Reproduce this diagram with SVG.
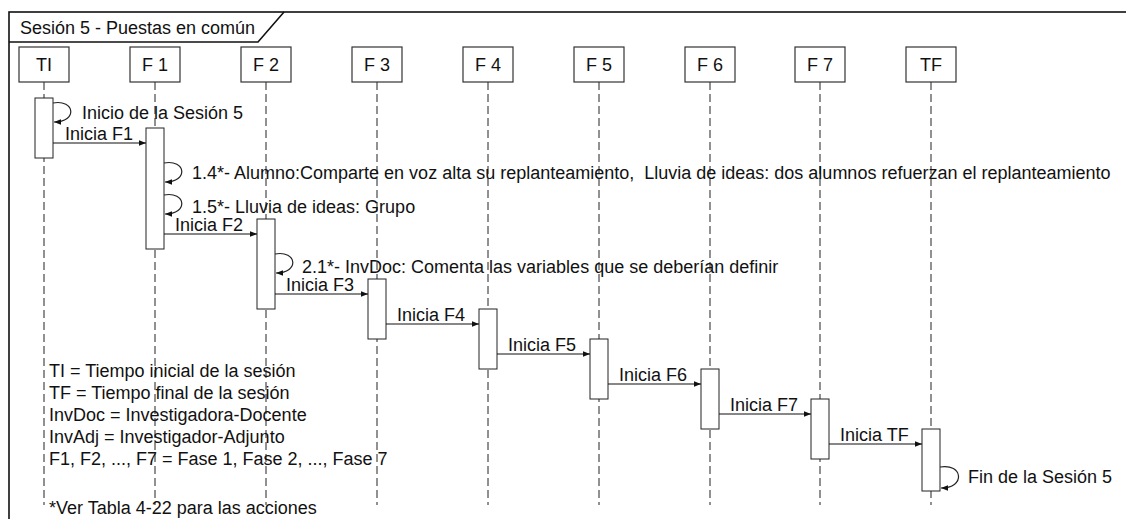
<svg xmlns="http://www.w3.org/2000/svg" width="1126" height="519" viewBox="0 0 1126 519">
<style>
text{font-family:"Liberation Sans",Arial,sans-serif;font-size:18px;fill:#111}
.box{fill:#fff;stroke:#333;stroke-width:1.2}
.life{stroke:#222;stroke-width:1;stroke-dasharray:8,4;fill:none}
.bar{fill:#fff;stroke:#222;stroke-width:1}
.msg{stroke:#111;stroke-width:1.2;fill:none;marker-end:url(#arr)}
.loop{stroke:#222;stroke-width:1.2;fill:none;marker-end:url(#arr)}
.frame{fill:none;stroke:#111;stroke-width:1.6}
.lbl{text-anchor:middle}
</style>
<defs>
<marker id="arr" viewBox="0 0 10 10" refX="10" refY="5" markerWidth="7" markerHeight="7" markerUnits="userSpaceOnUse" orient="auto">
<path d="M0,1 L10,5 L0,9 z" fill="#111"/>
</marker>
</defs>
<rect width="1126" height="519" fill="#fff"/>
<g id="frame">
<rect class="frame" x="9" y="12" width="1130" height="520"/>
<path class="frame" d="M9,42 H258 L284,12"/>
<text x="20" y="34">Sesión 5 - Puestas en común</text>
</g>
<g id="TI">
<line class="life" x1="44" y1="82" x2="44" y2="505"/>
<rect class="box" x="19" y="47" width="50" height="35"/>
<text class="lbl" x="44" y="71">TI</text>
<rect class="bar" x="35" y="98" width="18" height="60"/>
</g>
<g id="F1">
<line class="life" x1="155" y1="82" x2="155" y2="505"/>
<rect class="box" x="130" y="47" width="50" height="35"/>
<text class="lbl" x="155" y="71">F 1</text>
<rect class="bar" x="146" y="128" width="18" height="121"/>
</g>
<g id="F2">
<line class="life" x1="266" y1="82" x2="266" y2="505"/>
<rect class="box" x="241" y="47" width="50" height="35"/>
<text class="lbl" x="266" y="71">F 2</text>
<rect class="bar" x="257" y="219" width="18" height="90"/>
</g>
<g id="F3">
<line class="life" x1="377" y1="82" x2="377" y2="505"/>
<rect class="box" x="352" y="47" width="50" height="35"/>
<text class="lbl" x="377" y="71">F 3</text>
<rect class="bar" x="368" y="279" width="18" height="60"/>
</g>
<g id="F4">
<line class="life" x1="488" y1="82" x2="488" y2="505"/>
<rect class="box" x="463" y="47" width="50" height="35"/>
<text class="lbl" x="488" y="71">F 4</text>
<rect class="bar" x="479" y="309" width="18" height="60"/>
</g>
<g id="F5">
<line class="life" x1="599" y1="82" x2="599" y2="505"/>
<rect class="box" x="574" y="47" width="50" height="35"/>
<text class="lbl" x="599" y="71">F 5</text>
<rect class="bar" x="590" y="339" width="18" height="60"/>
</g>
<g id="F6">
<line class="life" x1="710" y1="82" x2="710" y2="505"/>
<rect class="box" x="685" y="47" width="50" height="35"/>
<text class="lbl" x="710" y="71">F 6</text>
<rect class="bar" x="701" y="369" width="18" height="60"/>
</g>
<g id="F7">
<line class="life" x1="820" y1="82" x2="820" y2="505"/>
<rect class="box" x="795" y="47" width="50" height="35"/>
<text class="lbl" x="820" y="71">F 7</text>
<rect class="bar" x="811" y="399" width="18" height="60"/>
</g>
<g id="TF">
<line class="life" x1="931" y1="82" x2="931" y2="505"/>
<rect class="box" x="906" y="47" width="50" height="35"/>
<text class="lbl" x="931" y="71">TF</text>
<rect class="bar" x="922" y="429" width="18" height="62"/>
</g>
<g id="connectors">
<path class="loop" d="M53,103 C75,99 78,122 54,122"/>
<path class="loop" d="M164,163 C186,159 189,182 165,182"/>
<path class="loop" d="M164,195 C186,191 189,214 165,214"/>
<path class="loop" d="M275,254 C297,250 300,273 276,273"/>
<path class="loop" d="M940,467 C963,463 966,488 941,488"/>
<line class="msg" x1="53" y1="143" x2="146" y2="143"/>
<line class="msg" x1="164" y1="234" x2="257" y2="234"/>
<line class="msg" x1="275" y1="294" x2="368" y2="294"/>
<line class="msg" x1="386" y1="324" x2="479" y2="324"/>
<line class="msg" x1="497" y1="354" x2="590" y2="354"/>
<line class="msg" x1="608" y1="384" x2="701" y2="384"/>
<line class="msg" x1="719" y1="414" x2="811" y2="414"/>
<line class="msg" x1="829" y1="444" x2="922" y2="444"/>
</g>
<g id="labels">
<text x="82" y="119">Inicio de la Sesión 5</text>
<text x="65" y="140">Inicia F1</text>
<text x="192" y="179">1.4*- Alumno:Comparte en voz alta su replanteamiento,&#160; Lluvia de ideas: dos alumnos refuerzan el replanteamiento</text>
<text x="192" y="213">1.5*- Lluvia de ideas: Grupo</text>
<text x="175" y="231">Inicia F2</text>
<text x="302" y="273">2.1*- InvDoc: Comenta las variables que se deberían definir</text>
<text x="286" y="291">Inicia F3</text>
<text x="397" y="321">Inicia F4</text>
<text x="508" y="351">Inicia F5</text>
<text x="619" y="381">Inicia F6</text>
<text x="730" y="411">Inicia F7</text>
<text x="840" y="441">Inicia TF</text>
<text x="968" y="483">Fin de la Sesión 5</text>
</g>
<g id="legend">
<text x="49" y="377">TI = Tiempo inicial de la sesión</text>
<text x="49" y="399">TF = Tiempo final de la sesión</text>
<text x="49" y="421">InvDoc = Investigadora-Docente</text>
<text x="49" y="443">InvAdj = Investigador-Adjunto</text>
<text x="49" y="465">F1, F2, ..., F7 = Fase 1, Fase 2, ..., Fase 7</text>
<text x="49" y="514">*Ver Tabla 4-22 para las acciones</text>
</g>
</svg>
